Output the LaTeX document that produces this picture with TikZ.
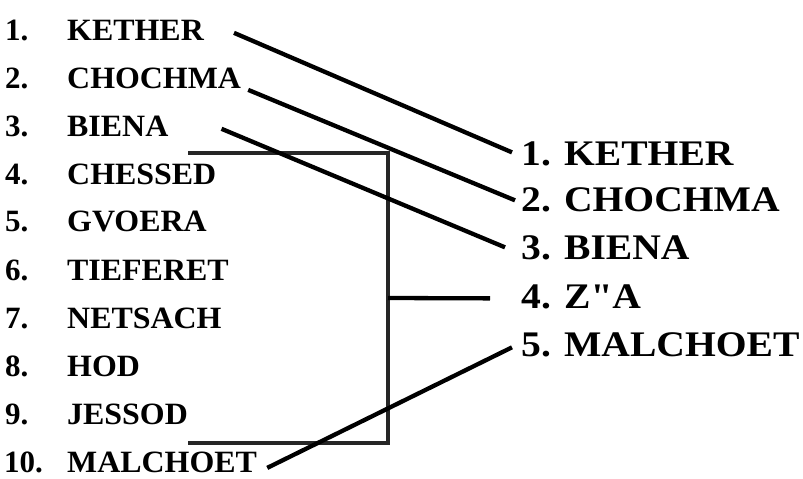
\documentclass[tikz,border=0pt]{standalone}
\usepackage{fontspec}
\usepackage{graphicx}
\setmainfont{Liberation Serif}
\newfontfamily\rawserif{Liberation Serif}
\usetikzlibrary{calc}
\begin{document}
\begin{tikzpicture}[x=1pt,y=-1pt,
  lnum/.style={font=\fontsize{31}{31}\selectfont\bfseries, inner sep=0pt, anchor=base west},
  lname/.style={font=\fontsize{31}{31}\selectfont\bfseries, inner sep=0pt, anchor=base west},
  rname/.style={font=\fontsize{36}{36}\selectfont\bfseries, inner sep=0pt, anchor=base west},
  conn/.style={line width=4.3pt, black},
  brk/.style={line width=3.3pt, black!85}]
\useasboundingbox (0,0) rectangle (803,479);
% left column
\node[lnum] (n1) at (5,40) {1.};
\node[lnum] (n2) at (5,88) {2.};
\node[lnum] (n3) at (5,136) {3.};
\node[lnum] (n4) at (5,184) {4.};
\node[lnum] (n5) at (5,231) {5.};
\node[lnum] (n6) at (5,280) {6.};
\node[lnum] (n7) at (5,328) {7.};
\node[lnum] (n8) at (5,376) {8.};
\node[lnum] (n9) at (5,424) {9.};
\node[lnum] (n10) at (4,472) {10.};
\node[lname] (l1) at (67,40) {\scalebox{1.03}[1]{KETHER}};
\node[lname] (l2) at (67,88) {\scalebox{1.03}[1]{CHOCHMA}};
\node[lname] (l3) at (67,136) {\scalebox{1.03}[1]{BIENA}};
\node[lname] (l4) at (67,184) {\scalebox{1.03}[1]{CHESSED}};
\node[lname] (l5) at (67,231) {\scalebox{1.03}[1]{GVOERA}};
\node[lname] (l6) at (67,280) {\scalebox{1.03}[1]{TIEFERET}};
\node[lname] (l7) at (67,328) {\scalebox{1.03}[1]{NETSACH}};
\node[lname] (l8) at (67,376) {\scalebox{1.03}[1]{HOD}};
\node[lname] (l9) at (67,424) {\scalebox{1.03}[1]{JESSOD}};
\node[lname] (l10) at (67,472) {\scalebox{1.03}[1]{MALCHOET}};
% right column
\node[rname] (r1) at (521,165) {\scalebox{1.1}[1]{1. KETHER}};
\node[rname] (r2) at (521,211) {\scalebox{1.1}[1]{2. CHOCHMA}};
\node[rname] (r3) at (521,259) {\scalebox{1.1}[1]{3. BIENA}};
\node[rname] (r4) at (521,308) {\scalebox{1.1}[1]{4. Z{\rawserif\bfseries "}A}};
\node[rname] (r5) at (521,356) {\scalebox{1.1}[1]{5. MALCHOET}};
% bracket
\coordinate (btl) at (188,153);
\coordinate (btr) at (388,153);
\coordinate (bbr) at (388,443);
\coordinate (bbl) at (188,443);
\coordinate (bm) at (388,298);
\draw[brk] (btl) -- (btr) -- (bbr) -- (bbl);
% connectors
\draw[conn] ($(l1.east)+(30,3)$) -- ($(r1.west)+(-9,-1)$);
\draw[conn] ($(l2.east)+(7,12)$) -- ($(r2.west)+(-6,1)$);
\draw[conn] ($(l3.east)+(53,3)$) -- ($(r3.west)+(-16,0)$);
\draw[conn] (bm) -- ($(r4.west)+(-31,2)$);
\draw[conn] ($(l10.east)+(10,6)$) -- ($(r5.west)+(-9,3)$);
\end{tikzpicture}
\end{document}
